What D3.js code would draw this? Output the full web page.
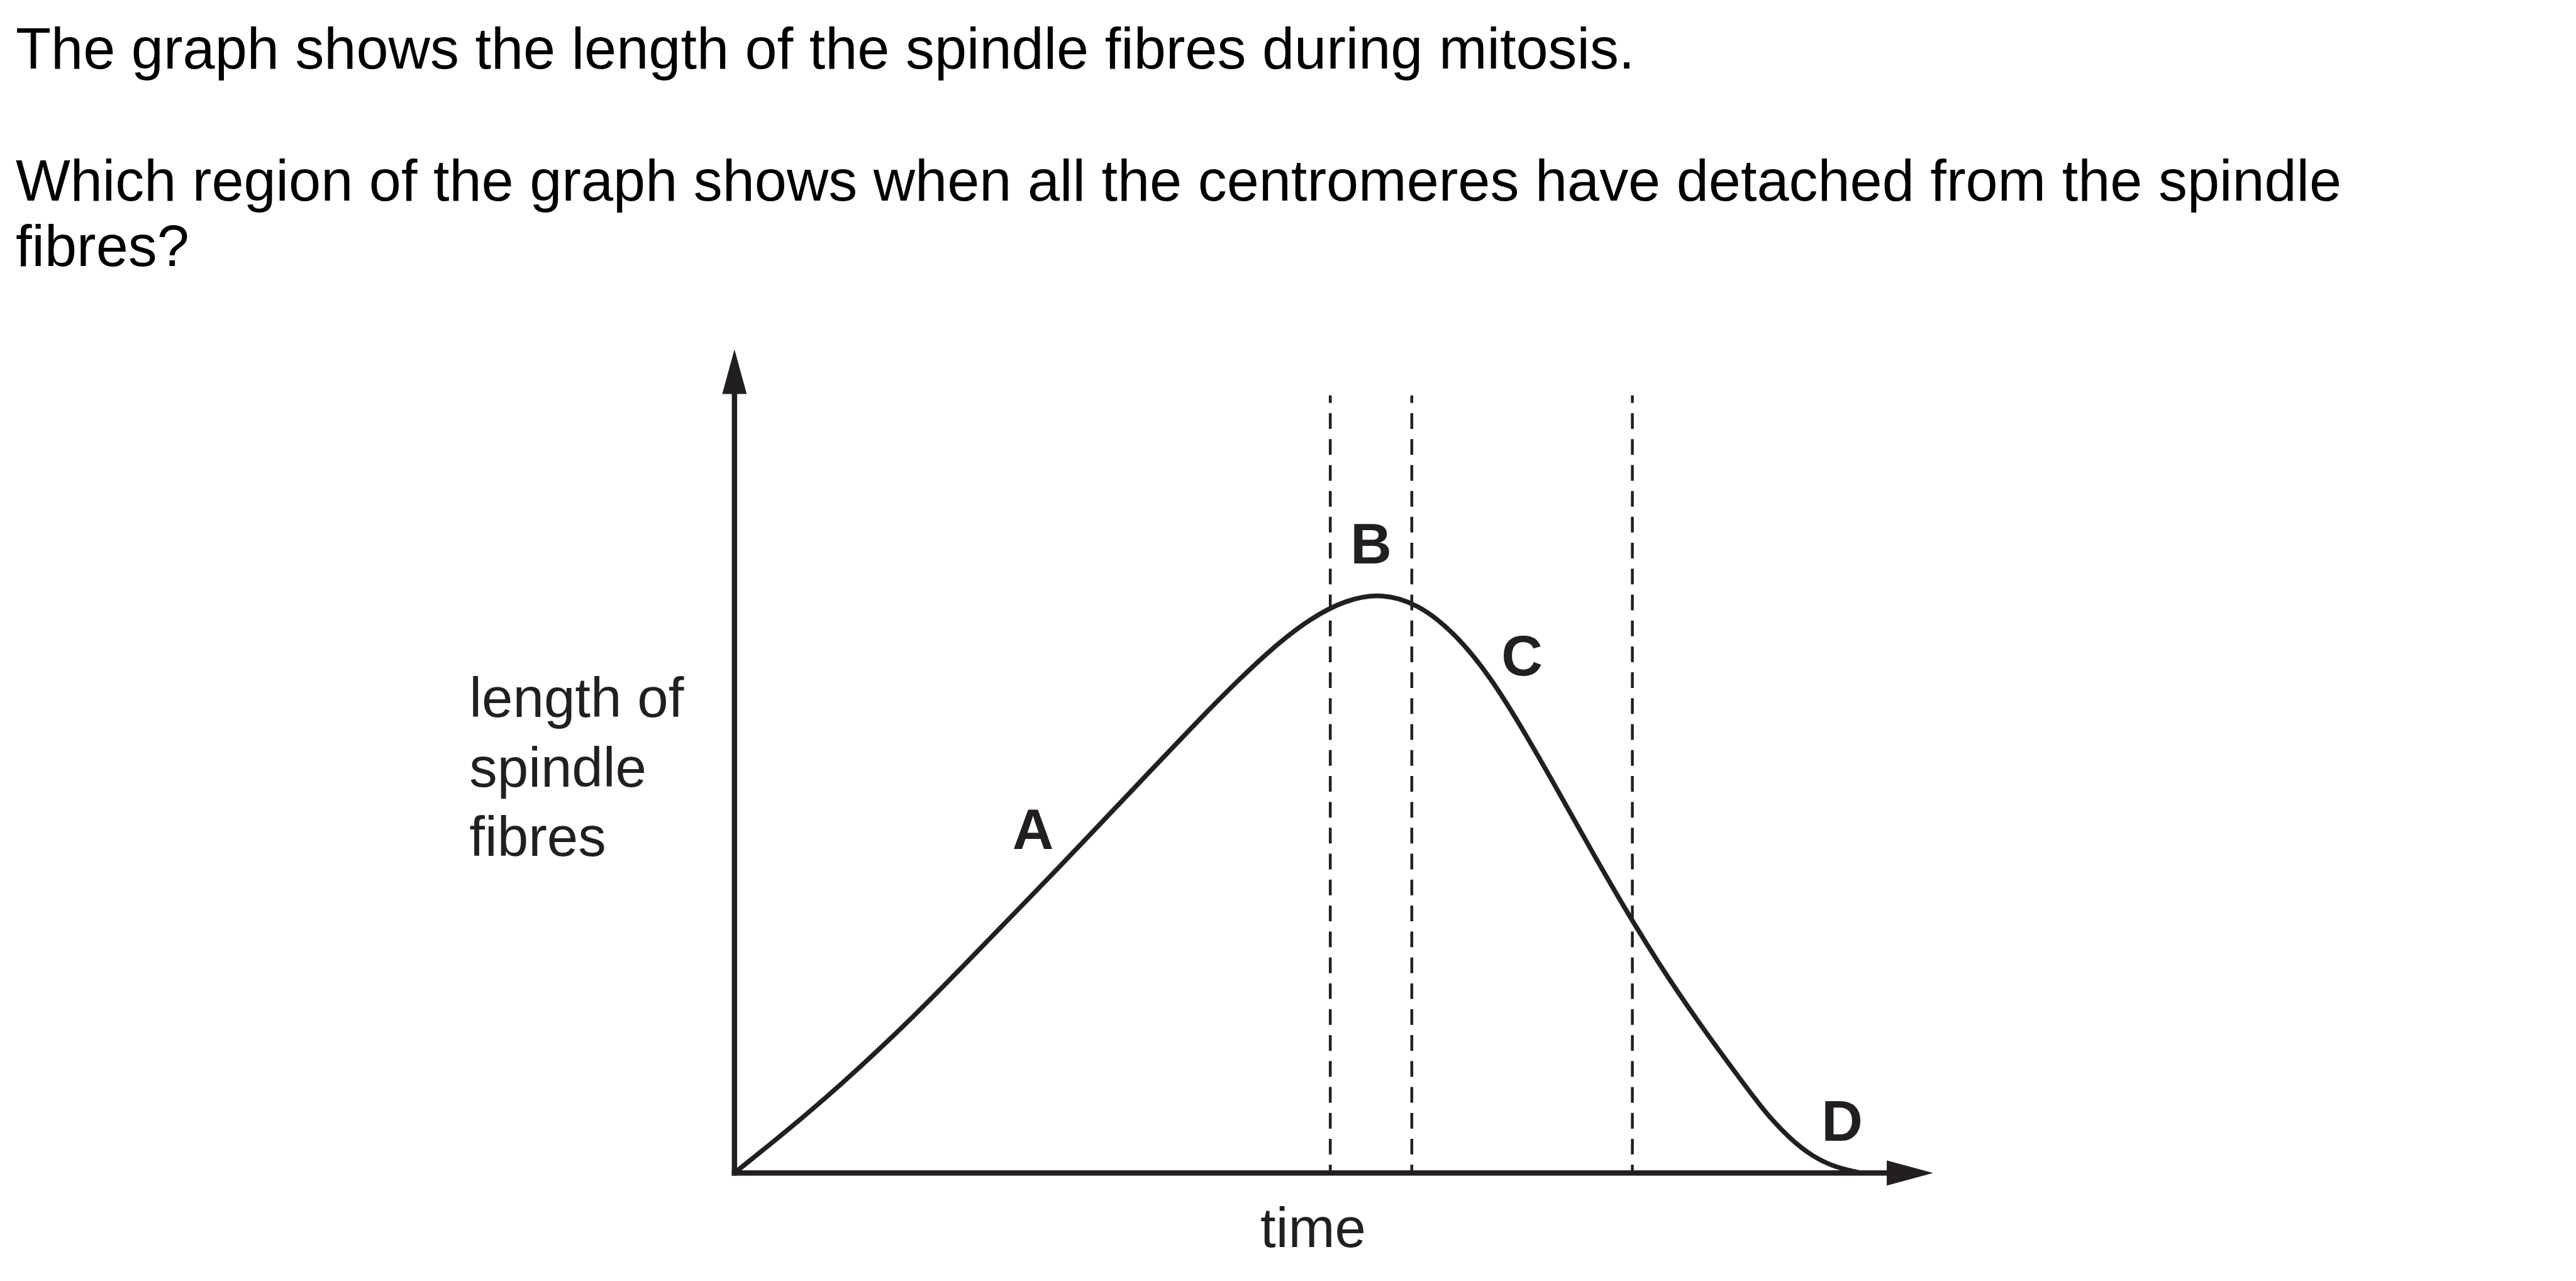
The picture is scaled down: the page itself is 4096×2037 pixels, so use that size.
<!DOCTYPE html>
<html>
<head>
<meta charset="utf-8">
<script src="https://cdnjs.cloudflare.com/ajax/libs/d3/7.8.5/d3.min.js"></script>
<style>
  html, body { margin: 0; padding: 0; background: #fff; overflow: hidden; }
  svg { display: block; }
  text { font-family: "Liberation Sans", Arial, sans-serif; }
</style>
</head>
<body>
<script>
// ---- data (time and length in arbitrary units, 0–100) ----
const questionLines = [
  "The graph shows the length of the spindle fibres during mitosis.",
  "Which region of the graph shows when all the centromeres have detached from the spindle",
  "fibres?"
];
const yLabelLines = ["length of", "spindle", "fibres"];
const xLabel = "time";

const curveTime   = [0, 3, 6, 9, 12, 15, 18, 21, 24, 27, 30, 33, 36, 39, 42, 45, 48, 51, 54, 57, 60, 63, 66, 69, 72, 75, 78, 81, 84, 86, 88, 90, 92, 94];
const curveLength = [0, 3.5, 7.1, 10.9, 14.9, 19.1, 23.5, 28.0, 32.5, 37.0, 41.6, 46.2, 50.8, 55.4, 59.8, 63.9, 67.3, 69.6, 70.4, 69.1, 65.7, 60.4, 53.3, 45.6, 37.8, 30.3, 23.4, 17.1, 11.2, 7.3, 4.2, 1.9, 0.6, 0];

const boundaryTimes = [49.7, 56.5, 74.9];
const boundaryTop = 94.4;

const regionNames  = ["A", "B", "C", "D"];
const regionTime   = [24.9, 53.1, 65.7, 92.4];
const regionLength = [39.3, 74.0, 60.4, 3.9];

// ---- drawing ----
const W = 4100, H = 2039;
const ink = "#231f20";

const svg = d3.select("body").append("svg")
  .attr("width", 4096).attr("height", 2037)
  .attr("viewBox", `0 0 ${W} ${H}`);

// question text
svg.append("g").selectAll("text").data(questionLines).join("text")
  .attr("x", 25)
  .attr("y", (d, i) => [109, 319, 423][i])
  .attr("font-size", 92)
  .attr("fill", "#000")
  .text(d => d);

const x = d3.scaleLinear().domain([0, 100]).range([1169, 3077]);
const y = d3.scaleLinear().domain([0, 100]).range([1867, 556]);

// axes lines
const axisW = 8.5;
svg.append("line")
  .attr("x1", x(0)).attr("x2", x(0))
  .attr("y1", y(0) + axisW / 2).attr("y2", 626)
  .attr("stroke", ink).attr("stroke-width", axisW);
svg.append("line")
  .attr("x1", x(0) - axisW / 2).attr("x2", 3004)
  .attr("y1", y(0)).attr("y2", y(0))
  .attr("stroke", ink).attr("stroke-width", axisW);

// arrowheads
svg.append("path")
  .attr("d", `M${x(0)},${y(100)} L${x(0) + 19.5},627 L${x(0) - 19.5},627 Z`)
  .attr("fill", ink);
svg.append("path")
  .attr("d", `M${x(100)},${y(0)} L3003,${y(0) - 20} L3003,${y(0) + 20} Z`)
  .attr("fill", ink);

// dashed boundaries
svg.append("g").selectAll("line").data(boundaryTimes).join("line")
  .attr("x1", d => x(d)).attr("x2", d => x(d))
  .attr("y1", y(boundaryTop)).attr("y2", y(0) - axisW / 2)
  .attr("stroke", ink).attr("stroke-width", 4.5)
  .attr("stroke-dasharray", "25 16.25")
  .attr("stroke-dashoffset", 13);

// curve
const pts = curveTime.map((t, i) => [t, curveLength[i]]);
const line = d3.line()
  .x(d => x(d[0])).y(d => y(d[1]))
  .curve(d3.curveBasis);
svg.append("path")
  .attr("d", line(pts))
  .attr("fill", "none")
  .attr("stroke", ink)
  .attr("stroke-width", 7.5)
  .attr("stroke-linecap", "round");

// region labels
svg.append("g").selectAll("text").data(regionNames).join("text")
  .attr("x", (d, i) => x(regionTime[i]))
  .attr("y", (d, i) => y(regionLength[i]))
  .attr("text-anchor", "middle")
  .attr("font-size", 91)
  .attr("font-weight", "bold")
  .attr("fill", ink)
  .text(d => d);

// y label
svg.append("g").selectAll("text").data(yLabelLines).join("text")
  .attr("x", 747)
  .attr("y", (d, i) => [1141, 1252, 1362][i])
  .attr("font-size", 89)
  .attr("fill", ink)
  .text(d => d);

// x label
svg.append("text")
  .attr("x", 2006).attr("y", 1985)
  .attr("font-size", 89)
  .attr("fill", ink)
  .text(xLabel);
</script>
</body>
</html>
